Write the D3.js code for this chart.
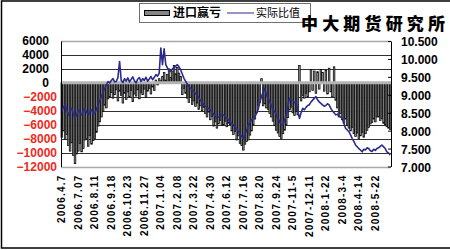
<!DOCTYPE html>
<html>
<head>
<meta charset="utf-8">
<script src="https://cdn.jsdelivr.net/npm/d3@7"></script>
<style>
  body { margin: 0; background: #fff; }
  svg { display: block; font-family: "Liberation Sans", Arial, sans-serif; }
</style>
</head>
<body>
<div id="chart"></div>
<script>
// 进口赢亏 (left axis), one value per category
const balance = [
  -7800, -6900, -8100, -7400, -9000, -9800, -8600, -10400, -11600, -10200,
  -9800, -8700, -9900, -9400, -8200, -8000, -9100, -7600, -8800, -8300,
  -8000, -7100, -6200, -5600, -4900, -4100, -3200, -3600, -2300, -2000,
  -1400, -2200, -1700, -1000, -2600, -1200, -1800, -2900, -1500, -2400,
  -1300, -2000, -1100, -2700, -1600, -1900, -1000, -2300, -1400, -1700,
  -900, -2100, -1200, -800, -1600, -600, -1100, 400, -300, 600,
  300, 900, 1500, 400, 1200, 2000, 800, 1600, 2500, 1300,
  2200, 1400, 900, -1700, -800, -1500, -2200, -2800, -2100, -3100,
  -2600, -3400, -2900, -3800, -3300, -4000, -3500, -4400, -4900, -4200,
  -5300, -4800, -6200, -5600, -6500, -5900, -5400, -6100, -6000, -5500,
  -6300, -5800, -6000, -6900, -7400, -7000, -8200, -7600, -8700, -9000,
  -9650, -8800, -8400, -8200, -7500, -6900, -6000, -5200, -4300, -3200,
  -2800, 600, -3300, -3000, -3600, -3800, -4400, -4900, -5500, -6100,
  -6800, -7200, -7700, -8000, -7300, -6800, -6000, -5000, -3900, -3500,
  -4300, -4700, -4100, -4600, 2500, -2600, -1800, -2200, -1500, -2000,
  -1300, 1900, -1100, 1700, -1500, 1600, -900, 1900, 1500, -1200,
  1800, -1600, 2100, -1300, -2000, 2300, -2500, -3600, -4900, -4400,
  -5300, -5800, -5200, -6100, -6500, -6900, -6400, -7300, -7700, -7200,
  -8000, -7600, -7100, -7800, -7300, -6800, -6400, -5900, -5700, -5200,
  -5600, -4900, -4900, -5400, -5100, -5800, -6000, -6300, -6500, -6700
];

// 实际比值 (right axis)
const ratio = [
  8.53, 8.66, 8.72, 8.58, 8.44, 8.55, 8.62, 8.48, 8.34, 8.45,
  8.58, 8.50, 8.44, 8.56, 8.62, 8.52, 8.44, 8.53, 8.58, 8.47,
  8.49, 8.60, 8.72, 8.84, 8.95, 9.08, 9.18, 9.27, 9.37, 9.33,
  9.40, 9.45, 9.36, 9.37, 9.48, 9.93, 9.40, 9.34, 9.45, 9.38,
  9.47, 9.36, 9.43, 9.50, 9.39, 9.33, 9.44, 9.48, 9.37, 9.45,
  9.40, 9.49, 9.38, 9.44, 9.51, 9.42, 9.48, 9.56, 9.52, 9.60,
  10.30, 9.84, 10.28, 9.84, 9.75, 9.68, 9.65, 9.72, 9.75, 9.80,
  9.84, 9.78, 9.70, 9.58, 9.46, 9.38, 9.30, 9.24, 9.18, 9.14,
  9.10, 9.04, 9.00, 8.92, 8.85, 8.79, 8.72, 8.68, 8.65, 8.62,
  8.58, 8.52, 8.45, 8.40, 8.34, 8.38, 8.40, 8.46, 8.44, 8.38,
  8.35, 8.30, 8.25, 8.20, 8.15, 8.10, 8.06, 7.98, 7.90, 7.84,
  7.78, 7.90, 8.00, 8.16, 8.22, 8.30, 8.34, 8.39, 8.48, 8.60,
  8.78, 8.95, 9.08, 9.18, 9.00, 8.90, 8.81, 8.70, 8.60, 8.53,
  8.44, 8.35, 8.26, 8.16, 8.16, 8.30, 8.44, 8.68, 8.90, 8.84,
  8.85, 8.78, 8.81, 8.55, 8.34, 8.50, 8.62, 8.58, 8.65, 8.70,
  8.72, 8.80, 8.85, 8.90, 8.95, 8.86, 8.80, 8.76, 8.72, 8.68,
  8.70, 8.75, 8.72, 8.62, 8.55, 8.50, 8.44, 8.46, 8.40, 8.38,
  8.34, 8.20, 8.06, 8.02, 7.97, 7.88, 7.78, 7.70, 7.60, 7.55,
  7.50, 7.46, 7.41, 7.48, 7.46, 7.52, 7.50, 7.44, 7.42, 7.48,
  7.45, 7.50, 7.52, 7.56, 7.60, 7.55, 7.50, 7.41, 7.38, 7.32
];

// date labels, one every 10 categories
const dateLabels = [
  '2006.4.7', '2006.7.07', '2006.8.11', '2006.9.18', '2006.10.23',
  '2006.11.27', '2007.1.04', '2007.2.08', '2007.3.22', '2007.4.30',
  '2007.6.12', '2007.7.16', '2007.8.20', '2007.9.24', '2007-11-5',
  '2007-12-11', '2008-1-22', '2008-3-4', '2008-4-14', '2008-5-22'
];
const leftTicks = [6000, 4000, 2000, 0, -2000, -4000, -6000, -8000, -10000, -12000];
const rightTicks = [10.5, 10, 9.5, 9, 8.5, 8, 7.5, 7];
const seriesNames = ['进口赢亏', '实际比值'];
const title = '中大期货研究所';

const w = 450;
const h = 250;
const plot = { left: 61, right: 391, top: 41, bottom: 166.5 };

const svg = d3.select('#chart').append('svg')
  .attr('width', w)
  .attr('height', h);

// outer frame (top, left, bottom)
svg.append('path')
  .attr('d', `M${w},1 H1.5 V248 H${w}`)
  .attr('fill', 'none')
  .attr('stroke', '#000')
  .attr('stroke-width', 1.5);

const cats = d3.range(balance.length);

const xScale = d3.scaleBand()
  .domain(cats)
  .range([plot.left, plot.right])
  .padding(0);

const yLeft = d3.scaleLinear()
  .domain([-12000, 6000])
  .range([plot.bottom, plot.top]);

const yRight = d3.scaleLinear()
  .domain([7, 10.5])
  .range([plot.bottom, plot.top]);

// gridlines
svg.append('g')
  .selectAll('line')
  .data(leftTicks)
  .enter()
  .append('line')
  .attr('x1', plot.left)
  .attr('x2', plot.right)
  .attr('y1', d => Math.round(yLeft(d)) + 0.5)
  .attr('y2', d => Math.round(yLeft(d)) + 0.5)
  .attr('stroke', d => (d === 6000 || d === -12000) ? '#a8a8a8' : '#303030')
  .attr('stroke-width', d => (d === 6000 || d === -12000) ? 1.5 : 1);

// bars
svg.append('g')
  .selectAll('rect')
  .data(balance)
  .enter()
  .append('rect')
  .attr('x', (d, i) => xScale(i))
  .attr('width', xScale.bandwidth())
  .attr('y', d => yLeft(Math.max(0, d)))
  .attr('height', d => Math.abs(yLeft(d) - yLeft(0)))
  .attr('fill', '#858585')
  .attr('stroke', '#000')
  .attr('stroke-width', 0.7);

// zero line
svg.append('line')
  .attr('x1', plot.left)
  .attr('x2', plot.right)
  .attr('y1', yLeft(0))
  .attr('y2', yLeft(0))
  .attr('stroke', '#b4b4b4')
  .attr('stroke-width', 3);

// ratio line
const line = d3.line()
  .x((d, i) => xScale(i) + xScale.bandwidth() / 2)
  .y(d => yRight(d));

svg.append('path')
  .datum(ratio)
  .attr('d', line)
  .attr('fill', 'none')
  .attr('stroke', '#2a2a8e')
  .attr('stroke-width', 1.6)
  .attr('stroke-linejoin', 'round');

// left axis
const leftAxis = svg.append('g')
  .attr('transform', `translate(${plot.left}, 0)`)
  .call(d3.axisLeft(yLeft).tickValues(leftTicks).tickSize(0).tickFormat(d3.format('d')));
leftAxis.select('.domain').attr('stroke', '#000');
leftAxis.selectAll('text')
  .attr('x', d => d < 0 ? -4 : -12)
  .attr('fill', d => d < 0 ? '#ee2a22' : '#000')
  .style('font-size', '12px')
  .style('font-weight', 'bold')
  .style('font-family', '"Liberation Sans", Arial, sans-serif');

// right axis
const rightAxis = svg.append('g')
  .attr('transform', `translate(${plot.right}, 0)`)
  .call(d3.axisRight(yRight).tickValues(rightTicks).tickSizeInner(-3).tickSizeOuter(0)
    .tickFormat(d3.format('.3f')));
rightAxis.select('.domain').attr('stroke', '#000');
rightAxis.selectAll('.tick line').attr('stroke', '#000');
rightAxis.selectAll('text')
  .attr('x', 10)
  .attr('dy', '0.4em')
  .attr('fill', '#000')
  .style('font-size', '12px')
  .style('font-weight', 'bold')
  .style('font-family', '"Liberation Sans", Arial, sans-serif');

// category axis (labels only)
const xAxis = svg.append('g')
  .attr('transform', `translate(0, ${plot.bottom})`)
  .call(d3.axisBottom(xScale)
    .tickValues(cats.filter(i => i % 10 === 0))
    .tickFormat(i => dateLabels[i / 10])
    .tickSize(0));
xAxis.select('.domain').remove();
xAxis.selectAll('text')
  .attr('transform', 'rotate(-90)')
  .attr('x', -8)
  .attr('y', 0)
  .attr('dy', '0.35em')
  .attr('text-anchor', 'end')
  .attr('fill', '#000')
  .style('font-size', '10px')
  .style('font-weight', 'bold')
  .style('letter-spacing', '1.2px')
  .style('font-family', '"Liberation Sans", Arial, sans-serif');

// legend
const legend = svg.append('g');
legend.append('rect')
  .attr('x', 139.5)
  .attr('y', 3.5)
  .attr('width', 171)
  .attr('height', 19)
  .attr('fill', '#fff')
  .attr('stroke', '#707070');
legend.append('rect')
  .attr('x', 144.5)
  .attr('y', 10.5)
  .attr('width', 25)
  .attr('height', 5)
  .attr('fill', '#858585')
  .attr('stroke', '#000');
legend.append('text')
  .attr('x', 173)
  .attr('y', 13)
  .attr('dy', '0.35em')
  .style('font-family', '"Noto Sans CJK SC", sans-serif')
  .style('font-size', '12px')
  .style('font-weight', 'bold')
  .text(seriesNames[0]);
legend.append('line')
  .attr('x1', 227)
  .attr('x2', 254)
  .attr('y1', 13)
  .attr('y2', 13)
  .attr('stroke', '#2a2a8e')
  .attr('stroke-width', 1);
legend.append('text')
  .attr('x', 256)
  .attr('y', 13)
  .attr('dy', '0.35em')
  .style('font-family', '"Noto Sans CJK SC", sans-serif')
  .style('font-size', '11px')
  .text(seriesNames[1]);

// watermark title
svg.append('text')
  .attr('x', 301)
  .attr('y', 29.5)
  .attr('textLength', 144)
  .attr('lengthAdjust', 'spacing')
  .style('font-family', '"Noto Sans CJK SC", sans-serif')
  .style('font-size', '17px')
  .style('font-weight', 900)
  .text(title);
</script>
</body>
</html>
